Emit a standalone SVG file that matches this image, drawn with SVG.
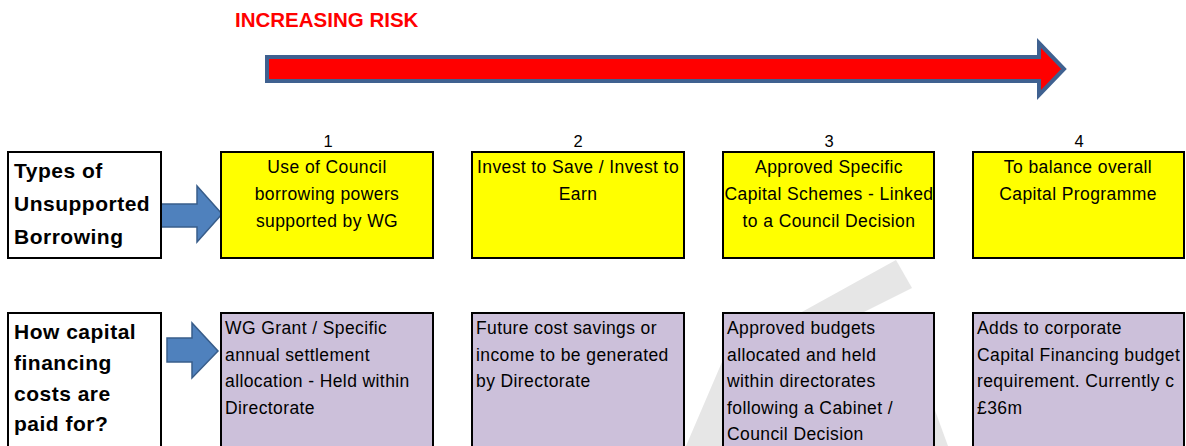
<svg xmlns="http://www.w3.org/2000/svg" width="1186" height="446" viewBox="0 0 1186 446">
<style>
.wm{fill:#e6e6e6}
.lbl{fill:#fff;stroke:#000;stroke-width:2}
.yel{fill:#ffff00;stroke:#000;stroke-width:2}
.pur{fill:#ccc0da;stroke:#000;stroke-width:2}
.hd{font-family:"Liberation Sans",Arial,sans-serif;font-weight:bold;font-size:21px;letter-spacing:0.5px;fill:#000}
.tc{font-family:"Liberation Sans",Arial,sans-serif;font-size:17.5px;letter-spacing:0.4px;fill:#000;text-anchor:middle}
.tl{font-family:"Liberation Sans",Arial,sans-serif;font-size:17.5px;letter-spacing:0.4px;fill:#000}
.num{font-family:"Liberation Sans",Arial,sans-serif;font-size:16.5px;fill:#000;text-anchor:middle}
.blk{fill:#4f81bd;stroke:#385d8a;stroke-width:1.5;stroke-linejoin:miter}
</style>
<rect width="1186" height="446" fill="#fff"/>
<g id="watermark">
<polygon class="wm" points="800,313 896,260 912,288 862,313"/>
<polygon class="wm" points="686,446 740,320 780,320 730,446"/>
<polygon class="wm" points="862,320 902,320 948,446 908,446"/>
</g>
<g id="risk-scale">
<text x="235" y="27" font-family="Liberation Sans, Arial, sans-serif" font-weight="bold" font-size="20.5" fill="#ff0000">INCREASING RISK</text>
<path d="M267,57 L1039,57 L1039,43 L1064,69 L1039,95 L1039,81 L267,81 Z" fill="#ff0000" stroke="#3f6190" stroke-width="4"/>
</g>
<g id="connectors">
<path class="blk" d="M161,204 L197,204 L197,186 L222,214 L197,242 L197,227 L161,227 Z"/>
<path class="blk" d="M167,338 L192,338 L192,323 L218,351 L192,378 L192,362 L167,362 Z"/>
</g>
<g id="row1-label">
<rect class="lbl" x="8" y="152" width="153" height="106"/>
<text class="hd" x="14" y="178">Types of</text>
<text class="hd" x="14" y="211">Unsupported</text>
<text class="hd" x="14" y="244">Borrowing</text>
</g>
<g id="row2-label">
<rect class="lbl" x="8" y="313" width="153" height="140"/>
<text class="hd" x="14" y="339">How capital</text>
<text class="hd" x="14" y="370">financing</text>
<text class="hd" x="14" y="401">costs are</text>
<text class="hd" x="14" y="431">paid for?</text>
</g>
<g id="type-1">
<text class="num" x="328" y="147">1</text>
<rect class="yel" x="221" y="152" width="212" height="106"/>
<text class="tc" x="327" y="173">Use of Council</text>
<text class="tc" x="327" y="200">borrowing powers</text>
<text class="tc" x="327" y="227">supported by WG</text>
</g>
<g id="type-2">
<text class="num" x="578" y="147">2</text>
<rect class="yel" x="472" y="152" width="212" height="106"/>
<text class="tc" x="578" y="173">Invest to Save / Invest to</text>
<text class="tc" x="578" y="200">Earn</text>
</g>
<g id="type-3">
<text class="num" x="829" y="147">3</text>
<rect class="yel" x="723" y="152" width="211" height="106"/>
<text class="tc" x="829" y="173">Approved Specific</text>
<text class="tc" x="829" y="200">Capital Schemes - Linked</text>
<text class="tc" x="829" y="227">to a Council Decision</text>
</g>
<g id="type-4">
<text class="num" x="1079" y="147">4</text>
<rect class="yel" x="973" y="152" width="211" height="106"/>
<text class="tc" x="1078" y="173">To balance overall</text>
<text class="tc" x="1078" y="200">Capital Programme</text>
</g>
<g id="cost-1">
<rect class="pur" x="221" y="313" width="212" height="140"/>
<text class="tl" x="225" y="334">WG Grant / Specific</text>
<text class="tl" x="225" y="361">annual settlement</text>
<text class="tl" x="225" y="387">allocation - Held within</text>
<text class="tl" x="225" y="414">Directorate</text>
</g>
<g id="cost-2">
<rect class="pur" x="472" y="313" width="212" height="140"/>
<text class="tl" x="476" y="334">Future cost savings or</text>
<text class="tl" x="476" y="361">income to be generated</text>
<text class="tl" x="476" y="387">by Directorate</text>
</g>
<g id="cost-3">
<rect class="pur" x="723" y="313" width="211" height="140"/>
<text class="tl" x="727" y="334">Approved budgets</text>
<text class="tl" x="727" y="361">allocated and held</text>
<text class="tl" x="727" y="387">within directorates</text>
<text class="tl" x="727" y="414">following a Cabinet /</text>
<text class="tl" x="727" y="440">Council Decision</text>
</g>
<g id="cost-4">
<rect class="pur" x="973" y="313" width="211" height="140"/>
<text class="tl" x="977" y="334">Adds to corporate</text>
<text class="tl" x="977" y="361">Capital Financing budget</text>
<text class="tl" x="977" y="387">requirement. Currently c</text>
<text class="tl" x="977" y="414">£36m</text>
</g>
</svg>
